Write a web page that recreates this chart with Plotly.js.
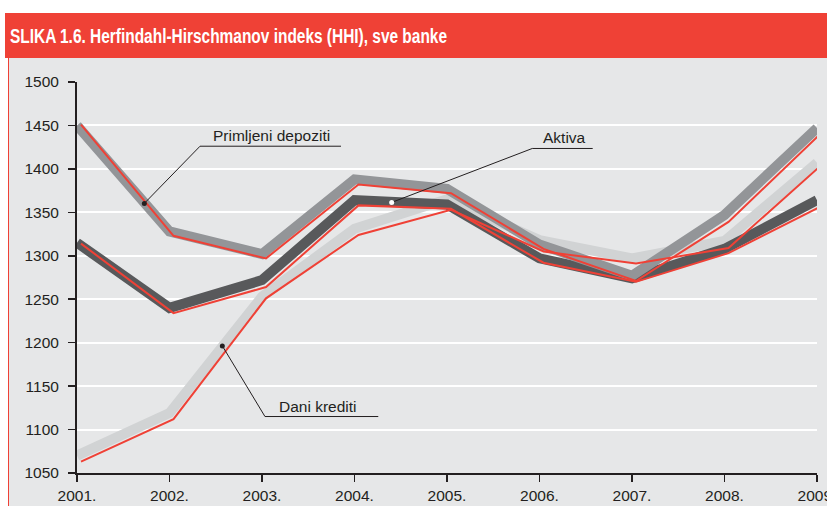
<!DOCTYPE html>
<html>
<head>
<meta charset="utf-8">
<script src="https://cdn.plot.ly/plotly-3.0.1.min.js"></script>
<style>
  html, body { margin: 0; padding: 0; background: #ffffff; }
  #chart { width: 827px; height: 506px; }
</style>
</head>
<body>
<div id="chart"></div>
<script>
// ---- data ----
const years = [2001, 2002, 2003, 2004, 2005, 2006, 2007, 2008, 2009];
const yearLabels = ['2001.', '2002.', '2003.', '2004.', '2005.', '2006.', '2007.', '2008.', '2009.'];
const yTicks = [1050, 1100, 1150, 1200, 1250, 1300, 1350, 1400, 1450, 1500];

const depozitiGrey = [1450, 1328, 1302, 1388, 1377, 1313, 1277, 1347, 1447];
const depozitiRed  = [1451, 1323, 1297, 1382, 1372, 1308, 1271, 1339, 1441];
const aktivaGrey   = [1315, 1240, 1272, 1364, 1359, 1297, 1274, 1308, 1364];
const aktivaRed    = [1314, 1234, 1264, 1358, 1354, 1292, 1270, 1303, 1357];
const kreditiGrey  = [1070, 1119, 1253, 1331, 1365, 1318, 1297, 1317, 1407];
const kreditiRed   = [1063, 1112, 1251, 1324, 1353, 1305, 1291, 1309, 1404];

const titleText = 'SLIKA 1.6. Herfindahl-Hirschmanov indeks (HHI), sve banke';

// labels: text, text position, dot position, underline start/end
const labels = [
  { text: 'Primljeni depoziti', tx: 2003.10, dot: [2001.728, 1360.3], u0: [2002.33, 1426.1], u1: 2003.854, dotColor: '#231f20' },
  { text: 'Aktiva',             tx: 2006.27, dot: [2004.402, 1361.4], u0: [2005.922, 1423.5], u1: 2006.575, dotColor: '#ffffff' },
  { text: 'Dani krediti',       tx: 2003.60, dot: [2002.571, 1196.3], u0: [2003.032, 1115.0], u1: 2004.257, dotColor: '#231f20' }
];

// ---- styling ----
const RED = '#ef4136';
const PANEL = '#e6e7e8';
const INK = '#231f20';
const FONT = 'Liberation Sans, Arial, Helvetica, sans-serif';
const FS = 15.5;

const W = 827, H = 506;
const M = { l: 77, r: 10, t: 82, b: 33 };
const PW = W - M.l - M.r, PH = H - M.t - M.b;
const px2paperX = px => (px - M.l) / PW;
const py2paperY = py => (H - M.b - py) / PH;

const xRange = [2001, 2009];
const redShiftPx = 4;
const pxPerYear = PW / (xRange[1] - xRange[0]);
const dShift = redShiftPx / pxPerYear;

function line(y, color, width, xa) {
  return { x: years, y: y, type: 'scatter', mode: 'lines', xaxis: xa || 'x', yaxis: 'y',
           line: { color: color, width: width }, hoverinfo: 'skip', showlegend: false };
}

const traces = [
  line(kreditiRed, RED, 2, 'x2'),
  line(aktivaRed, RED, 2, 'x2'),
  line(depozitiRed, RED, 2, 'x2'),
  line(kreditiGrey, '#d1d3d4', 10),
  line(aktivaGrey, '#58595b', 10),
  line(depozitiGrey, '#939598', 10)
];

const shapes = [
  { type: 'rect', xref: 'paper', yref: 'paper', layer: 'below',
    x0: px2paperX(8), x1: px2paperX(835), y0: py2paperY(515), y1: py2paperY(58),
    fillcolor: PANEL, line: { width: 0 } },
  { type: 'line', xref: 'paper', yref: 'paper', layer: 'below',
    x0: px2paperX(8.5), x1: px2paperX(8.5), y0: py2paperY(515), y1: py2paperY(58),
    line: { color: RED, width: 1 } },
  { type: 'rect', xref: 'paper', yref: 'paper', layer: 'below',
    x0: px2paperX(5), x1: px2paperX(835), y0: py2paperY(58), y1: py2paperY(13),
    fillcolor: RED, line: { width: 0 } }
];

const annotations = [];
labels.forEach(l => {
  shapes.push({ type: 'line', xref: 'x', yref: 'y', x0: l.dot[0], y0: l.dot[1], x1: l.u0[0], y1: l.u0[1],
                line: { color: INK, width: 1 } });
  shapes.push({ type: 'line', xref: 'x', yref: 'y', x0: l.u0[0], y0: l.u0[1], x1: l.u1, y1: l.u0[1],
                line: { color: INK, width: 1 } });
  shapes.push({ type: 'circle', xref: 'x', yref: 'y', xsizemode: 'pixel', ysizemode: 'pixel',
                xanchor: l.dot[0], yanchor: l.dot[1], x0: -2.5, x1: 2.5, y0: -2.5, y1: 2.5,
                fillcolor: l.dotColor, line: { width: 0 } });
  annotations.push({ xref: 'x', yref: 'y', x: l.tx, y: l.u0[1], text: l.text, showarrow: false,
                     xanchor: 'center', yanchor: 'bottom', yshift: 0,
                     font: { family: FONT, size: FS, color: INK } });
});

const layout = {
  width: W, height: H,
  margin: M,
  paper_bgcolor: '#ffffff',
  plot_bgcolor: 'rgba(0,0,0,0)',
  showlegend: false,
  font: { family: FONT, size: FS, color: INK },
  title: {
    text: titleText,
    xref: 'container', x: 10 / W, xanchor: 'left',
    yref: 'container', y: 1 - 36 / H, yanchor: 'middle',
    font: { family: FONT, size: 20, color: '#ffffff', weight: 'bold' }
  },
  xaxis: {
    range: xRange, tickmode: 'array', tickvals: years, ticktext: yearLabels,
    showgrid: false, zeroline: false, showline: true, linecolor: INK, linewidth: 2,
    ticks: 'outside', ticklen: 7, tickwidth: 1.5, tickcolor: INK, ticklabeloverflow: 'allow',
    tickfont: { family: FONT, size: FS, color: INK }, fixedrange: true
  },
  xaxis2: {
    overlaying: 'x', range: [xRange[0] - dShift, xRange[1] - dShift], visible: false, fixedrange: true
  },
  yaxis: {
    range: [1050, 1500], tickmode: 'array', tickvals: yTicks,
    showgrid: true, gridcolor: '#ffffff', gridwidth: 2, zeroline: false,
    showline: true, linecolor: INK, linewidth: 2,
    ticks: 'outside', ticklen: 7, tickwidth: 1.5, tickcolor: INK, ticklabelstandoff: 6,
    tickfont: { family: FONT, size: FS, color: INK }, fixedrange: true
  },
  shapes: shapes,
  annotations: annotations
};

Plotly.newPlot('chart', traces, layout, { staticPlot: true, displayModeBar: false }).then(gd => {
  // condensed heading as in the reference: compress the real title text to its measured width
  const t = gd.querySelector('.gtitle');
  if (t) {
    t.setAttribute('textLength', '437');
    t.setAttribute('lengthAdjust', 'spacingAndGlyphs');
  }
});
</script>
</body>
</html>
